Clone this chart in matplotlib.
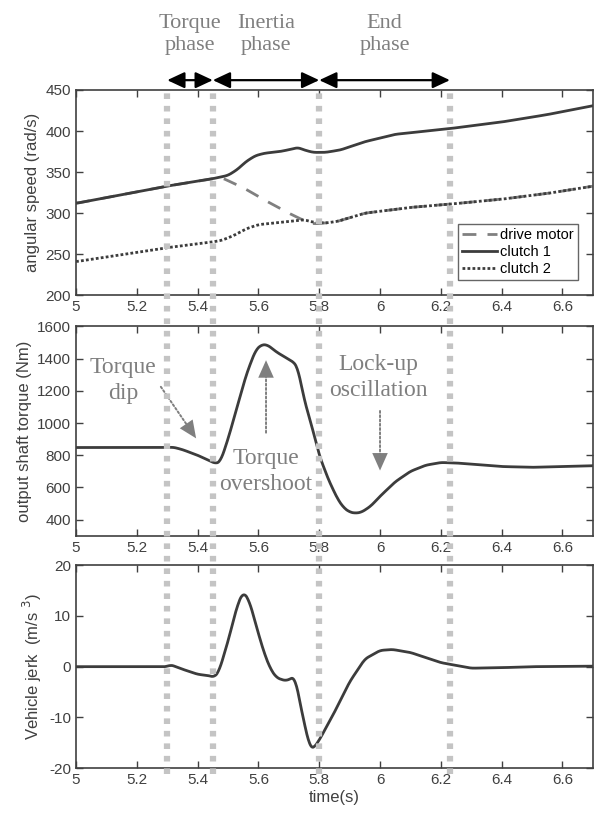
import numpy as np
import matplotlib.pyplot as plt
from matplotlib.transforms import blended_transform_factory

# ---- data ----
phase_lines = [5.3, 5.45, 5.8, 6.23]
phase_names = ["Torque\nphase", "Inertia\nphase", "End\nphase"]

t_c1 = [5.0, 5.3, 5.45, 5.5, 5.53, 5.56, 5.59, 5.62, 5.67, 5.71, 5.73, 5.75, 5.78, 5.82,
        5.87, 5.95, 6.05, 6.23, 6.4, 6.55, 6.7]
clutch1 = [312, 333, 342, 346, 353, 363, 370, 373, 375, 378, 380, 377, 374, 374,
           377, 387, 396, 403, 411, 420, 431]

t_c2 = [5.0, 5.3, 5.45, 5.48, 5.52, 5.56, 5.6, 5.65, 5.7, 5.75, 5.78, 5.82, 5.86,
        5.95, 6.1, 6.23, 6.4, 6.55, 6.7]
clutch2 = [241, 258, 265, 267, 273, 281, 286, 288, 290, 292, 289, 288, 290,
           300, 307, 311, 317, 324, 333]

t_dm = [5.0, 5.3, 5.45, 5.48, 5.55, 5.62, 5.7, 5.75, 5.78, 5.82, 5.86,
        5.95, 6.1, 6.23, 6.4, 6.55, 6.7]
drive_motor = [312, 333, 342, 343, 331, 316, 300, 291, 287, 288, 290,
               300, 307, 311, 317, 324, 333]

t_tq = [5.0, 5.3, 5.32, 5.35, 5.4, 5.44, 5.46, 5.475, 5.5, 5.53, 5.56, 5.59, 5.61, 5.63,
        5.66, 5.7, 5.72, 5.73, 5.75, 5.78, 5.8, 5.83, 5.86, 5.88, 5.9, 5.92, 5.94, 5.97,
        6.0, 6.05, 6.1, 6.15, 6.2, 6.25, 6.3, 6.4, 6.5, 6.6, 6.7]
torque = [848, 848, 850, 835, 800, 765, 748, 760, 900, 1100, 1300, 1450, 1487, 1485,
          1440, 1395, 1372, 1340, 1150, 950, 800, 650, 530, 475, 447, 440, 447, 485,
          545, 635, 700, 738, 755, 752, 745, 730, 725, 730, 735]

t_jk = [5.0, 5.3, 5.31, 5.35, 5.4, 5.44, 5.455, 5.47, 5.5, 5.53, 5.55, 5.57, 5.6, 5.62,
        5.64, 5.66, 5.69, 5.72, 5.73, 5.75, 5.77, 5.78, 5.8, 5.85, 5.9, 5.95, 6.0, 6.04,
        6.1, 6.2, 6.3, 6.4, 6.5, 6.7]
jerk = [0, 0, 0.4, -0.5, -1.5, -1.8, -2.1, -1.0, 5, 12, 14.8, 13, 6.5, 2.5,
        -0.5, -2.2, -2.8, -2.0, -5, -11, -16, -16.2, -14.5, -9, -3, 1.5, 3.2, 3.4,
        2.8, 0.8, -0.3, -0.2, 0, 0.1]

# torque panel notes: (text, text x, text y, arrow start, arrow tip)
notes = [
    ("Torque\ndip", 5.155, 1265, (5.279, 1225), (5.395, 905)),
    ("Torque\novershoot", 5.625, 700, (5.625, 940), (5.625, 1390)),
    ("Lock-up\noscillation", 5.995, 1285, (6.0, 1075), (6.0, 705)),
]


def smooth(t, y, n=800):
    tt = np.linspace(t[0], t[-1], n)
    yy = np.interp(tt, t, y)
    k = np.ones(11) / 11
    ys = np.convolve(np.pad(yy, 5, mode="edge"), k, mode="valid")
    return tt, ys


plt.rcParams['font.family'] = ['Liberation Sans', 'DejaVu Sans']
plt.rcParams['axes.unicode_minus'] = False
line_col = "#3c3c3c"
gray_txt = "#7f7f7f"
serif = ['Liberation Serif', 'DejaVu Serif']

fig = plt.figure(figsize=(5.94, 8.18), dpi=100)
ax1 = fig.add_axes([0.128, 0.639, 0.870, 0.251])
ax2 = fig.add_axes([0.128, 0.345, 0.870, 0.256])
ax3 = fig.add_axes([0.128, 0.061, 0.870, 0.248])

ax1.plot(*smooth(t_dm, drive_motor), color="#808080", lw=2, ls=(0, (5, 4)), label="drive motor")
ax1.plot(*smooth(t_c1, clutch1), color=line_col, lw=2, label="clutch 1")
ax1.plot(*smooth(t_c2, clutch2), color=line_col, lw=2, ls=(0, (1, 0.8)), label="clutch 2")
ax1.set_ylim(200, 450)
ax1.set_yticks([200, 250, 300, 350, 400, 450])
ax1.set_ylabel("angular speed (rad/s)", color="#404040", fontsize=12)
leg = ax1.legend(loc="lower right", fontsize=10.5, frameon=True, fancybox=False,
                 edgecolor="#404040", handlelength=2.4, handletextpad=0.2,
                 borderpad=0.3, labelspacing=0.2, borderaxespad=0,
                 bbox_to_anchor=(0.971, 0.073))
leg.get_frame().set_linewidth(1.0)

ax2.plot(*smooth(t_tq, torque), color=line_col, lw=2)
ax2.set_ylim(300, 1600)
ax2.set_yticks([400, 600, 800, 1000, 1200, 1400, 1600])
ax2.set_ylabel("output shaft torque (Nm)", color="#404040", fontsize=12)

ax3.plot(*smooth(t_jk, jerk), color=line_col, lw=2)
ax3.set_ylim(-20, 20)
ax3.set_yticks([-20, -10, 0, 10, 20])
ax3.set_ylabel("Vehicle jerk  (m/s $^3$)", color="#404040", fontsize=12)
ax3.set_xlabel("time(s)", color="#404040", fontsize=12, labelpad=2)

for ax in (ax1, ax2, ax3):
    ax.set_xlim(5, 6.7)
    ax.set_xticks([5, 5.2, 5.4, 5.6, 5.8, 6, 6.2, 6.4, 6.6])
    ax.set_xticklabels(["5", "5.2", "5.4", "5.6", "5.8", "6", "6.2", "6.4", "6.6"])
    ax.tick_params(direction="in", top=True, right=True, labelsize=11,
                   colors="#404040", length=5, width=1)
    for s in ax.spines.values():
        s.set_color("#404040")
        s.set_linewidth(1.2)

# phase boundary lines running through all panels
tr = blended_transform_factory(ax1.transData, fig.transFigure)
for x in phase_lines:
    fig.add_artist(plt.Line2D([x, x], [0.054, 0.890], transform=tr, color="#c4c4c4",
                              lw=4.5, ls=(0, (0.9, 1.1)), zorder=0.5))

# phase arrows and names
for i, name in enumerate(phase_names):
    x0, x1 = phase_lines[i], phase_lines[i + 1]
    ax1.annotate("", xy=(x0, 0.902), xytext=(x1, 0.902), xycoords=tr, textcoords=tr,
                 arrowprops=dict(arrowstyle="<|-|>,head_length=0.75,head_width=0.35",
                                 color="black", lw=1.6,
                                 mutation_scale=14, shrinkA=0, shrinkB=0))
    ax1.text((x0 + x1) / 2, 0.958, name, transform=tr, ha="center", va="center",
             fontsize=16, color=gray_txt, family=serif, linespacing=1.25)

# annotations in torque panel: dotted shaft + solid head
for text, tx, ty, start, tip in notes:
    ax2.text(tx, ty, text, ha="center", va="center", fontsize=17,
             color=gray_txt, family=serif, linespacing=1.3)
    ax2.annotate("", xy=tip, xytext=start,
                 arrowprops=dict(arrowstyle="-", color=gray_txt, lw=1.4, ls=(0, (1, 1.2)),
                                 shrinkA=0, shrinkB=8))
    ax2.annotate("", xy=tip, xytext=start,
                 arrowprops=dict(arrowstyle="-|>,head_length=0.9,head_width=0.4",
                                 color=gray_txt, lw=0, mutation_scale=14,
                                 shrinkA=0, shrinkB=0))

fig.savefig("out.png", dpi=100)
